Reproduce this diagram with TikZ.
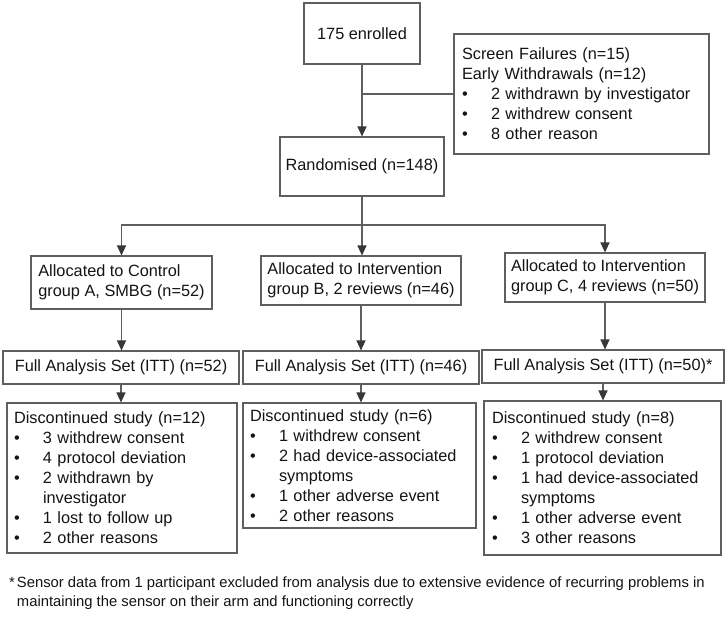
\documentclass[tikz,border=0pt]{standalone}
\usepackage{fontspec}
\setmainfont{Liberation Sans}
\usetikzlibrary{arrows.meta}
\definecolor{edge}{RGB}{95,95,95}
\definecolor{headc}{RGB}{55,55,55}
\definecolor{ink}{RGB}{20,20,20}
\newcommand\bitm[1]{\makebox[29pt][l]{\textbullet}#1}
\newcommand\contm[1]{\hspace*{29pt}#1}
\begin{document}
\begin{tikzpicture}[x=1pt,y=-1pt,
  box/.style={draw=edge, line width=1.1pt, rectangle, inner sep=0pt, text=ink, font=\fontsize{16.3}{20}\selectfont},
  list/.style={box, align=left, inner xsep=7pt},
  arr/.style={draw=edge, line width=1.1pt, -{Triangle[width=9pt,length=10pt,color=headc]}},
  ln/.style={draw=edge, line width=1.1pt}]
\useasboundingbox[fill=white] (0,0) rectangle (728,616);

\node[box, minimum width=116, minimum height=61] (enr) at (362,33.5) {175 enrolled};
\node[list, inner xsep=8pt, text width=239, minimum height=120] (scr) at (581.5,94)
  {Screen Failures (n=15)\\Early Withdrawals (n=12)\\\bitm{2 withdrawn by investigator}\\\bitm{2 withdrew consent}\\\bitm{8 other reason}};
\node[box, minimum width=164, minimum height=59] (rand) at (362,166.5) {Randomised (n=148)};

\node[box, align=left, minimum width=181, minimum height=53] (allA) at (121.5,282.5) {Allocated to Control\\group A, SMBG (n=52)};
\node[box, align=left, minimum width=200, minimum height=49] (allB) at (361,280.5) {Allocated to Intervention\\group B, 2 reviews (n=46)};
\node[box, align=left, minimum width=200, minimum height=49] (allC) at (605,277.5) {Allocated to Intervention\\group C, 4 reviews (n=50)};

\node[box, minimum width=236, minimum height=33] (fasA) at (121,367.5) {Full Analysis Set (ITT) (n=52)};
\node[box, minimum width=236, minimum height=33] (fasB) at (361,367.5) {Full Analysis Set (ITT) (n=46)};
\node[box, minimum width=242, minimum height=33] (fasC) at (603,366.5) {Full Analysis Set (ITT) (n=50)*};

\node[list, text width=216, minimum height=150] (dA) at (122,478)
  {Discontinued study (n=12)\\\bitm{3 withdrew consent}\\\bitm{4 protocol deviation}\\\bitm{2 withdrawn by}\\\contm{investigator}\\\bitm{1 lost to follow up}\\\bitm{2 other reasons}};
\node[list, text width=219, minimum height=125] (dB) at (359.5,465.5)
  {Discontinued study (n=6)\\\bitm{1 withdrew consent}\\\bitm{2 had device-associated}\\\contm{symptoms}\\\bitm{1 other adverse event}\\\bitm{2 other reasons}};
\node[list, inner xsep=8pt, text width=221, minimum height=154] (dC) at (602.5,478)
  {Discontinued study (n=8)\\\bitm{2 withdrew consent}\\\bitm{1 protocol deviation}\\\bitm{1 had device-associated}\\\contm{symptoms}\\\bitm{1 other adverse event}\\\bitm{3 other reasons}};

\node[anchor=north west, inner sep=0pt, text=ink, font=\fontsize{14.8}{19}\selectfont] (fn) at (9,574)
  {\begin{tabular}{@{}l@{\hspace{2pt}}l@{}}*&Sensor data from 1 participant excluded from analysis due to extensive evidence of recurring problems in\\&maintaining the sensor on their arm and functioning correctly\end{tabular}};

\draw[arr] (enr.south) -- (rand.north);
\draw[ln] (enr.south |- scr.west) -- (scr.west);
\coordinate (split) at (362,225);
\draw[ln] (rand.south) -- (split);
\draw[arr] (split) -| (allA.north);
\draw[arr] (split) -| (allC.north);
\draw[arr] (split) -- (split |- allB.north);
\draw[arr] (allA.south) -- (allA.south |- fasA.north);
\draw[arr] (allB.south) -- (allB.south |- fasB.north);
\draw[arr] (allC.south) -- (allC.south |- fasC.north);
\draw[arr] (fasA.south) -- (fasA.south |- dA.north);
\draw[arr] (fasB.south) -- (fasB.south |- dB.north);
\draw[arr] (fasC.south) -- (fasC.south |- dC.north);
\end{tikzpicture}
\end{document}
